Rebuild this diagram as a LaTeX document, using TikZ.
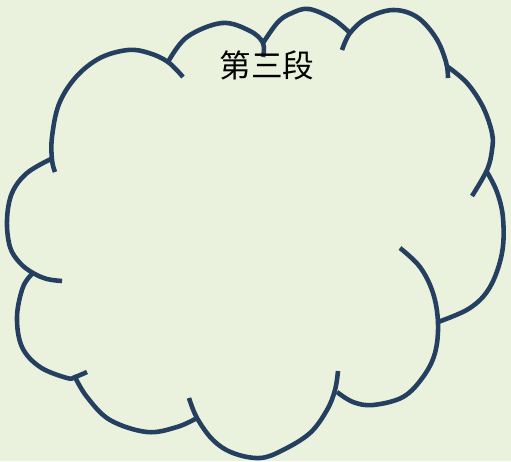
\documentclass[tikz,border=0pt]{standalone}
\usepackage{fontspec}
\newfontfamily\cjk{Noto Sans CJK SC}
\definecolor{bgcolor}{HTML}{EAF1DD}
\definecolor{cloudblue}{HTML}{243F60}
\tikzset{
  bump/.style={draw=cloudblue, line width=2.6pt, smooth, tension=0.6},
  title/.style={inner sep=0pt, font=\cjk\fontsize{18}{20}\selectfont}
}
\begin{document}
\begin{tikzpicture}[x=0.02cm, y=-0.02cm]
  \fill[bgcolor] (0,0) rectangle (511,461);
  \useasboundingbox (0,0) rectangle (511,461);
  % cloud bumps, clockwise from the left
  \draw[bump] plot coordinates {(62,281) (47,279) (33,273) (20,263) (10,247) (7,220) (12,193) (27,173) (51,159)};
  \draw[bump] plot coordinates {(55,172) (52,160) (52,137) (59,104) (76,77) (100,58) (128,50) (149,53) (168,62) (183,77)};
  \draw[bump] plot coordinates {(168,62) (187,37) (222,23) (250,31) (263,43) (263,57)};
  \draw[bump] plot coordinates {(263,43) (278,22) (292,13) (309,9) (333,19) (350,33)};
  \draw[bump] plot coordinates {(342,50) (350,33) (367,18) (393,10) (417,17) (436,38) (446,62) (448,78)};
  \draw[bump] plot coordinates {(448,67) (467,83) (483,107) (492,133) (492,150) (487,170) (472,196)};
  \draw[bump] plot coordinates {(487,172) (497,192) (503,218) (502,253) (490,287) (470,308) (438,322)};
  \draw[bump] plot coordinates {(400,248) (420,267) (433,293) (438,323) (435,353) (423,377) (403,397) (373,405) (353,402) (337,392)};
  \draw[bump] plot coordinates {(338,371) (335,390) (327,410) (310,433) (283,450) (260,458) (233,453) (213,440) (197,418) (189,398)};
  \draw[bump] plot coordinates {(197,418) (177,427) (147,432) (110,420) (87,397) (75,377)};
  \draw[bump] plot coordinates {(87,372) (75,377) (67,378) (40,367) (22,347) (17,317) (23,287) (33,273)};
  \node[title] (heading) at (267,65) {第三段};
\end{tikzpicture}
\end{document}
